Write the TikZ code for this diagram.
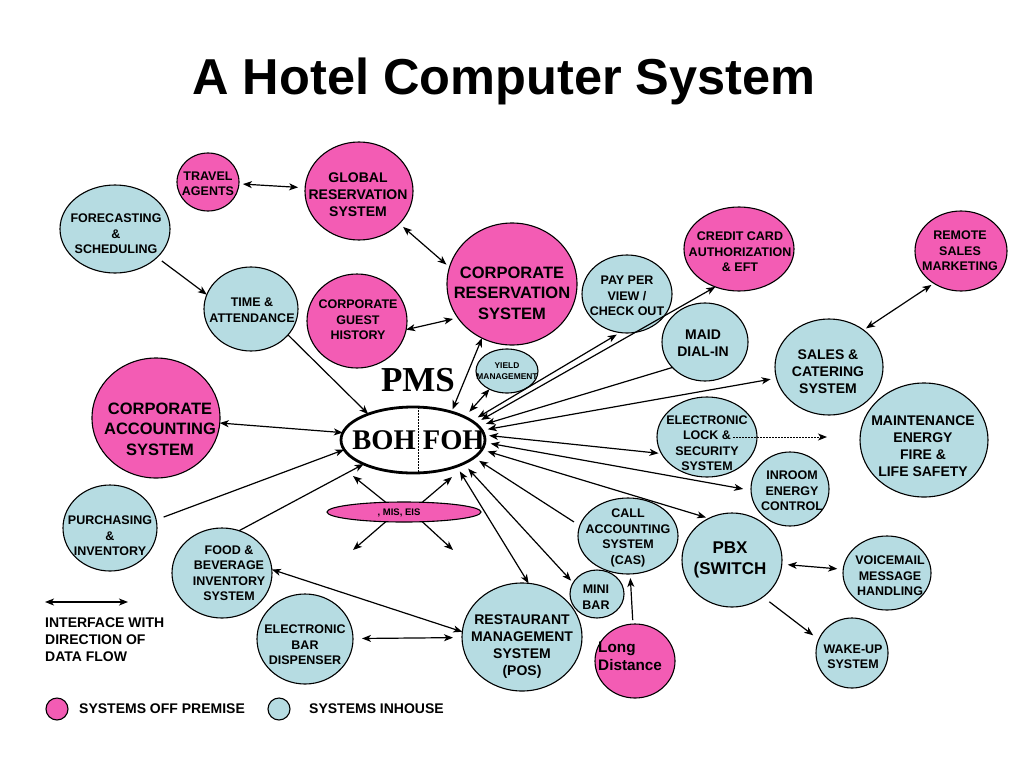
\documentclass[tikz,border=0pt]{standalone}
\usepackage{fontspec}
\setmainfont{Liberation Sans}
\newfontfamily\tms{Liberation Serif}
\usetikzlibrary{arrows.meta,shapes.geometric}
\definecolor{pinkc}{RGB}{243,92,180}
\definecolor{bluec}{RGB}{182,220,226}
\begin{document}
\begin{tikzpicture}[x=1pt,y=-1pt,
  >={Stealth[length=9pt,width=7pt,inset=2.5pt]},
  ell/.style={ellipse,draw=black,line width=1.1pt,inner sep=0pt,outer sep=0pt},
  pk/.style={ell,fill=pinkc},
  bl/.style={ell,fill=bluec},
  tx/.style={align=center,inner sep=0pt,font=\bfseries\fontsize{12.5}{15.5}\selectfont},
  txm/.style={tx,font=\bfseries\fontsize{14}{17}\selectfont},
  txl/.style={tx,font=\bfseries\fontsize{16.5}{20.5}\selectfont},
  con/.style={line width=1.2pt,->},
  bi/.style={line width=1.2pt,<->},
]
\fill[white] (0,0) rectangle (1024,768);
\path[use as bounding box] (0,0) rectangle (1024,768);

% title
\node[font=\bfseries\fontsize{50.5}{60}\selectfont,anchor=base,inner sep=0pt] (title) at (504,94) {A Hotel Computer System};

% ellipses
\node[pk,minimum width=62pt,minimum height=58pt] (travel) at (208,182) {};
\node[pk,minimum width=108pt,minimum height=98pt] (global) at (359,191) {};
\node[bl,minimum width=110pt,minimum height=88pt] (forecast) at (115,229) {};
\node[bl,minimum width=94pt,minimum height=84pt] (time) at (251,309) {};
\node[pk,minimum width=100pt,minimum height=94pt] (guest) at (357,321) {};
\node[pk,minimum width=130pt,minimum height=122pt] (corpres) at (512,284) {};
\node[bl,minimum width=90pt,minimum height=78pt] (pay) at (627,294) {};
\node[pk,minimum width=110pt,minimum height=84pt] (credit) at (739,249) {};
\node[pk,minimum width=92pt,minimum height=80pt] (remote) at (961,251) {};
\node[bl,minimum width=86pt,minimum height=78pt] (maid) at (705,342) {};
\node[bl,minimum width=108pt,minimum height=96pt] (sales) at (829,367) {};
\node[bl,minimum width=62pt,minimum height=44pt] (yield) at (507,371) {};
\node[pk,minimum width=128pt,minimum height=120pt] (acc) at (156,418) {};
\node[bl,minimum width=100pt,minimum height=80pt] (lock) at (707,437) {};
\node[bl,minimum width=128pt,minimum height=114pt] (maint) at (924,440) {};
\node[bl,minimum width=78pt,minimum height=74pt] (inroom) at (790,489) {};
\node[bl,minimum width=94pt,minimum height=86pt] (purch) at (110,528) {};
\node[bl,minimum width=100pt,minimum height=90pt] (food) at (222,573) {};
\node[bl,minimum width=96pt,minimum height=90pt] (bar) at (305,639) {};
\node[bl,minimum width=120pt,minimum height=108pt] (rest) at (522,637) {};
\node[bl,minimum width=100pt,minimum height=76pt] (cas) at (628,536) {};
\node[bl,minimum width=54pt,minimum height=48pt] (mini) at (597,594) {};
\node[pk,minimum width=80pt,minimum height=74pt] (long) at (635,661) {};
\node[bl,minimum width=100pt,minimum height=94pt] (pbx) at (732,560) {};
\node[bl,minimum width=88pt,minimum height=74pt] (voice) at (887,573) {};
\node[bl,minimum width=72pt,minimum height=70pt] (wake) at (852,653) {};
\node[ell,fill=white,line width=2.8pt,minimum width=144pt,minimum height=66pt] (boh) at (413,440) {};
\node[pk,minimum width=154pt,minimum height=20pt] (mis) at (404,512) {};

% texts
\node[tx] (travelt) at (208,184) {TRAVEL\\AGENTS};
\node[txm] (globalt) at (358,195) {GLOBAL\\RESERVATION\\SYSTEM};
\node[tx] (forecastt) at (116,234) {FORECASTING\\\&\\SCHEDULING};
\node[tx] (timet) at (252,310) {TIME \&\\ATTENDANCE};
\node[tx] (guestt) at (358,320) {CORPORATE\\GUEST\\HISTORY};
\node[txl] (corprest) at (512,293) {CORPORATE\\RESERVATION\\SYSTEM};
\node[tx] (payt) at (627,296) {PAY PER\\VIEW /\\CHECK OUT};
\node[tx] (creditt) at (740,252) {CREDIT CARD\\AUTHORIZATION\\\& EFT};
\node[tx] (remotet) at (960,251) {REMOTE\\SALES\\MARKETING};
\node[txm] (maidt) at (703,343) {MAID\\DIAL-IN};
\node[txm] (salest) at (828,372) {SALES \&\\CATERING\\SYSTEM};
\node[tx,font=\bfseries\fontsize{8.4}{11}\selectfont] (yieldt) at (507,371) {YIELD\\MANAGEMENT};
\node[txl] (acct) at (160,429) {CORPORATE\\ACCOUNTING\\SYSTEM};
\node[tx] (lockt) at (707,443) {ELECTRONIC\\LOCK \&\\SECURITY\\SYSTEM};
\node[txm] (maintt) at (923,446) {MAINTENANCE\\ENERGY\\FIRE \&\\LIFE SAFETY};
\node[tx] (inroomt) at (792,491) {INROOM\\ENERGY\\CONTROL};
\node[tx] (purcht) at (110,536) {PURCHASING\\\&\\INVENTORY};
\node[tx] (foodt) at (229,573) {FOOD \&\\BEVERAGE\\INVENTORY\\SYSTEM};
\node[tx] (bart) at (305,645) {ELECTRONIC\\BAR\\DISPENSER};
\node[txm] (restt) at (522,647) {RESTAURANT\\MANAGEMENT\\SYSTEM\\(POS)};
\node[tx] (cast) at (628,538) {CALL\\ACCOUNTING\\SYSTEM\\(CAS)};
\node[tx] (minit) at (596,597) {MINI\\BAR};
\node[align=left,inner sep=0pt,anchor=west,font=\bfseries\fontsize{15.3}{18}\selectfont] (longt) at (598,656) {Long\\Distance};
\node[tx,font=\bfseries\fontsize{17}{21}\selectfont] (pbxt) at (730,560) {PBX\\(SWITCH};
\node[tx] (voicet) at (890,576) {VOICEMAIL\\MESSAGE\\HANDLING};
\node[tx] (waket) at (853,657) {WAKE-UP\\SYSTEM};
\node[tx,font=\bfseries\fontsize{9.5}{11}\selectfont] (mist) at (399,513) {, MIS, EIS};
\node[inner sep=0pt,font=\tms\bfseries\fontsize{35}{40}\selectfont] (pms) at (418,380) {PMS};
\node[inner sep=0pt,font=\tms\bfseries\fontsize{28.5}{32}\selectfont] (bohfoh) at (418.5,440) {BOH FOH};
\draw[line width=1pt,dash pattern=on 1.5pt off 1.5pt] ([xshift=5pt]boh.north) -- ([xshift=5pt]boh.south);

% connectors
\draw[bi,shorten <=4pt,shorten >=7pt] (travel) -- (global);
\draw[bi,shorten <=5pt,shorten >=4pt] (global.-39) -- (corpres.165);
\draw[con,shorten <=6pt] (forecast.-34) -- (time.162);
\draw[con] (time.-35) -- (boh.150);
\draw[bi,shorten >=5pt] (guest.-10) -- (corpres.212);
\draw[bi,shorten >=3pt] (corpres.241) -- (boh.36);
\draw[bi,shorten >=7pt] (yield.226) -- (boh.24);
\draw[bi] (acc) -- (boh.174);
\draw[con,shorten <=8pt] (purch.10) -- (boh.188);
\draw[con] (food.68) -- (boh.206);
\draw[bi] (food.4) -- (rest.175);
\draw[bi,shorten <=9pt,shorten >=9pt] (bar) -- (rest);
\draw[bi,shorten <=7pt,shorten >=4pt] (boh.18) -- (pay.260);
\draw[bi,shorten <=7pt] (boh.15) -- (credit.238);
\draw[con,shorten >=8pt] (maid.218) -- (boh.12);
\draw[bi,shorten <=6pt,shorten >=6pt] (boh.8) -- (sales.192);
\draw[bi,shorten <=5pt,shorten >=3pt] (boh.4) -- (lock.200);
\draw[bi,shorten <=6pt,shorten >=8pt] (boh.-2) -- (inroom.182);
\draw[bi,shorten <=6pt,shorten >=3pt] (boh.-8) -- (pbx.119);
\draw[con,shorten <=7pt,shorten >=6pt] (cas.168) -- (boh.-16);
\draw[bi,shorten <=7pt,shorten >=3pt] (boh.-25) -- (mini.155);
\draw[bi,shorten <=6pt] (boh.-31) -- (rest.83);
\draw[con,shorten <=4pt,shorten >=4pt] (long) -- (cas);
\draw[bi,shorten <=6pt,shorten >=6pt] (pbx) -- (voice);
\draw[con,shorten <=8pt,shorten >=7pt] (pbx.-50) -- (wake.158);
\draw[bi,shorten <=3pt,shorten >=3pt] (sales.47) -- (remote.230);
\coordinate (lockend) at (827,437);
\draw[line width=1pt,dash pattern=on 1.5pt off 1.5pt,->,shorten <=26pt] (lock.center) -- (lockend);

% MIS arrows
\coordinate (misUL) at (353,476);
\coordinate (misUR) at (452,477);
\coordinate (misDL) at (353,550);
\coordinate (misDR) at (453,550);
\draw[con] (mis.152) -- (misUL);
\draw[con] (mis.28) -- (misUR);
\draw[con] (mis.-152) -- (misDL);
\draw[con] (mis.-28) -- (misDR);

% legend
\coordinate (lgA) at (45,602);
\coordinate (lgB) at (128,602);
\draw[bi] (lgA) -- (lgB);
\node[txm,align=left,anchor=north west] (lgt) at (45,618) {INTERFACE WITH\\DIRECTION OF\\DATA FLOW};
\node[pk,minimum width=22pt,minimum height=22pt] (lgpk) at (57,709) {};
\node[txm,anchor=west] (lgpkt) at (79,709) {SYSTEMS OFF PREMISE};
\node[bl,minimum width=22pt,minimum height=22pt] (lgbl) at (279,709) {};
\node[txm,anchor=west] (lgblt) at (309,709) {SYSTEMS INHOUSE};
\end{tikzpicture}
\end{document}
